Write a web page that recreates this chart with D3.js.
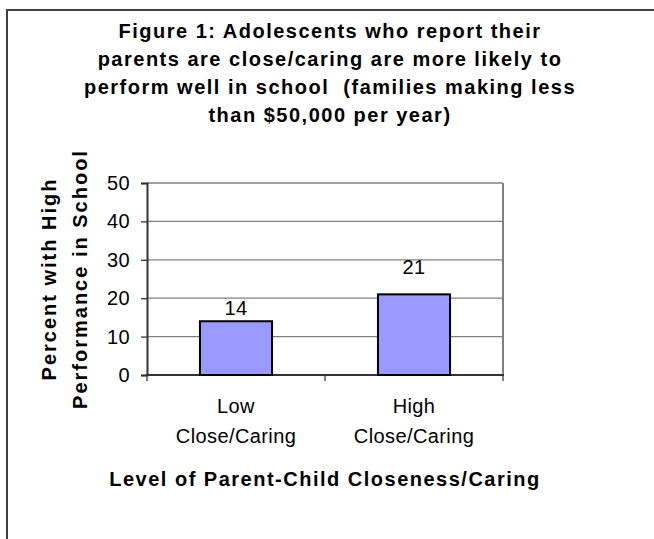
<!DOCTYPE html>
<html>
<head>
<meta charset="utf-8">
<script src="https://cdn.jsdelivr.net/npm/d3@7.9.0/dist/d3.min.js"></script>
<style>
  body { margin: 0; background: #fff; }
  svg { display: block; font-family: Arial, "Liberation Sans", sans-serif; }
</style>
</head>
<body>
<svg id="chart" width="654" height="539"></svg>
<script>
// chart data
const categories = ['Low|Close/Caring', 'High|Close/Caring'];
const values = [14, 21];
const yTicks = [0, 10, 20, 30, 40, 50];
const titleLines = [
  'Figure 1: Adolescents who report their',
  'parents are close/caring are more likely to',
  'perform well in school  (families making less',
  'than $50,000 per year)'
];
const yTitleLines = ['Percent with High', 'Performance in School'];
const xTitle = 'Level of Parent-Child Closeness/Caring';

const svg = d3.select('#chart');

// outer frame (only left/top edges fall inside the picture)
svg.append('rect')
  .attr('x', 7).attr('y', 10)
  .attr('width', 700).attr('height', 600)
  .attr('fill', '#fff')
  .attr('stroke', '#404040').attr('stroke-width', 2);

// plot box
const plotLeft = 147, plotRight = 503, plotTop = 183, plotBottom = 375;

let x = d3.scaleBand()
  .domain(categories)
  .range([plotLeft, plotRight])
  .paddingInner(0.595)
  .paddingOuter(0.2975);

let y = d3.scaleLinear().domain([0, 50]).range([plotBottom, plotTop]);

// gridlines
svg.append('g')
  .selectAll('line')
  .data(yTicks.filter(d => d > 0))
  .join('line')
  .attr('x1', plotLeft).attr('x2', plotRight)
  .attr('y1', d => y(d)).attr('y2', d => y(d))
  .attr('stroke', '#808080').attr('stroke-width', 1.3);

// right edge of plot, runs down to the tick length
svg.append('line')
  .attr('x1', plotRight).attr('x2', plotRight)
  .attr('y1', plotTop).attr('y2', plotBottom + 6)
  .attr('stroke', '#808080').attr('stroke-width', 2);

// x axis tick marks at band boundaries
let bounds = [plotLeft, ...categories.slice(1).map(c => x(c) - x.step() * x.paddingInner() / 2)];
svg.append('g')
  .selectAll('line')
  .data(bounds)
  .join('line')
  .attr('x1', d => d).attr('x2', d => d)
  .attr('y1', plotBottom).attr('y2', plotBottom + 6)
  .attr('stroke', '#808080').attr('stroke-width', 2);

// y axis
let yAxis = svg.append('g')
  .attr('transform', `translate(${plotLeft},0)`)
  .call(d3.axisLeft(y).tickValues(yTicks).tickSize(6).tickPadding(11));
yAxis.select('.domain').attr('stroke', '#333').attr('stroke-width', 2);
yAxis.selectAll('.tick line').attr('stroke', '#333').attr('stroke-width', 1.3);
yAxis.selectAll('.tick text')
  .attr('font-size', 20)
  .attr('font-family', 'Arial, "Liberation Sans", sans-serif')
  .attr('letter-spacing', 0.4)
  .attr('fill', '#000');

// x axis baseline
svg.append('line')
  .attr('x1', plotLeft - 1).attr('x2', plotRight + 1)
  .attr('y1', plotBottom).attr('y2', plotBottom)
  .attr('stroke', '#333').attr('stroke-width', 2);

// bars
svg.append('g')
  .selectAll('rect')
  .data(values)
  .join('rect')
  .attr('x', (d, i) => x(categories[i]))
  .attr('y', d => y(d))
  .attr('width', x.bandwidth())
  .attr('height', d => y(0) - y(d))
  .attr('fill', '#9999FF')
  .attr('stroke', '#000')
  .attr('stroke-width', 2);

// value labels
const labelDy = [6, 20];
svg.append('g')
  .selectAll('text')
  .data(values)
  .join('text')
  .attr('x', (d, i) => x(categories[i]) + x.bandwidth() / 2)
  .attr('y', (d, i) => y(d) - labelDy[i])
  .attr('text-anchor', 'middle')
  .attr('font-size', 20)
  .attr('letter-spacing', 0.4)
  .text(d => d);

// category labels (two lines each)
categories.forEach((c, i) => {
  let t = svg.append('text')
    .attr('text-anchor', 'middle')
    .attr('font-size', 20)
    .attr('letter-spacing', 0.4);
  c.split('|').forEach((line, j) => {
    t.append('tspan')
      .attr('x', x(c) + x.bandwidth() / 2)
      .attr('y', 413 + j * 30)
      .text(line);
  });
});

// x axis title
svg.append('text')
  .attr('x', (plotLeft + plotRight) / 2)
  .attr('y', 486)
  .attr('text-anchor', 'middle')
  .attr('font-size', 20)
  .attr('font-weight', 'bold')
  .attr('letter-spacing', 1.5)
  .text(xTitle);

// y axis title, rotated
let yt = svg.append('text')
  .attr('transform', `translate(0,${(plotTop + plotBottom) / 2}) rotate(-90)`)
  .attr('text-anchor', 'middle')
  .attr('font-size', 20)
  .attr('font-weight', 'bold')
  .attr('letter-spacing', 2);
yTitleLines.forEach((line, j) => {
  yt.append('tspan')
    .attr('x', 0)
    .attr('y', 56 + j * 31)
    .text(line);
});

// chart title
let title = svg.append('text')
  .attr('text-anchor', 'middle')
  .attr('font-size', 20)
  .attr('font-weight', 'bold')
  .attr('letter-spacing', 1.5)
  .attr('xml:space', 'preserve');
titleLines.forEach((line, j) => {
  title.append('tspan')
    .attr('x', 330)
    .attr('y', 38 + j * 28)
    .text(line);
});
</script>
</body>
</html>
